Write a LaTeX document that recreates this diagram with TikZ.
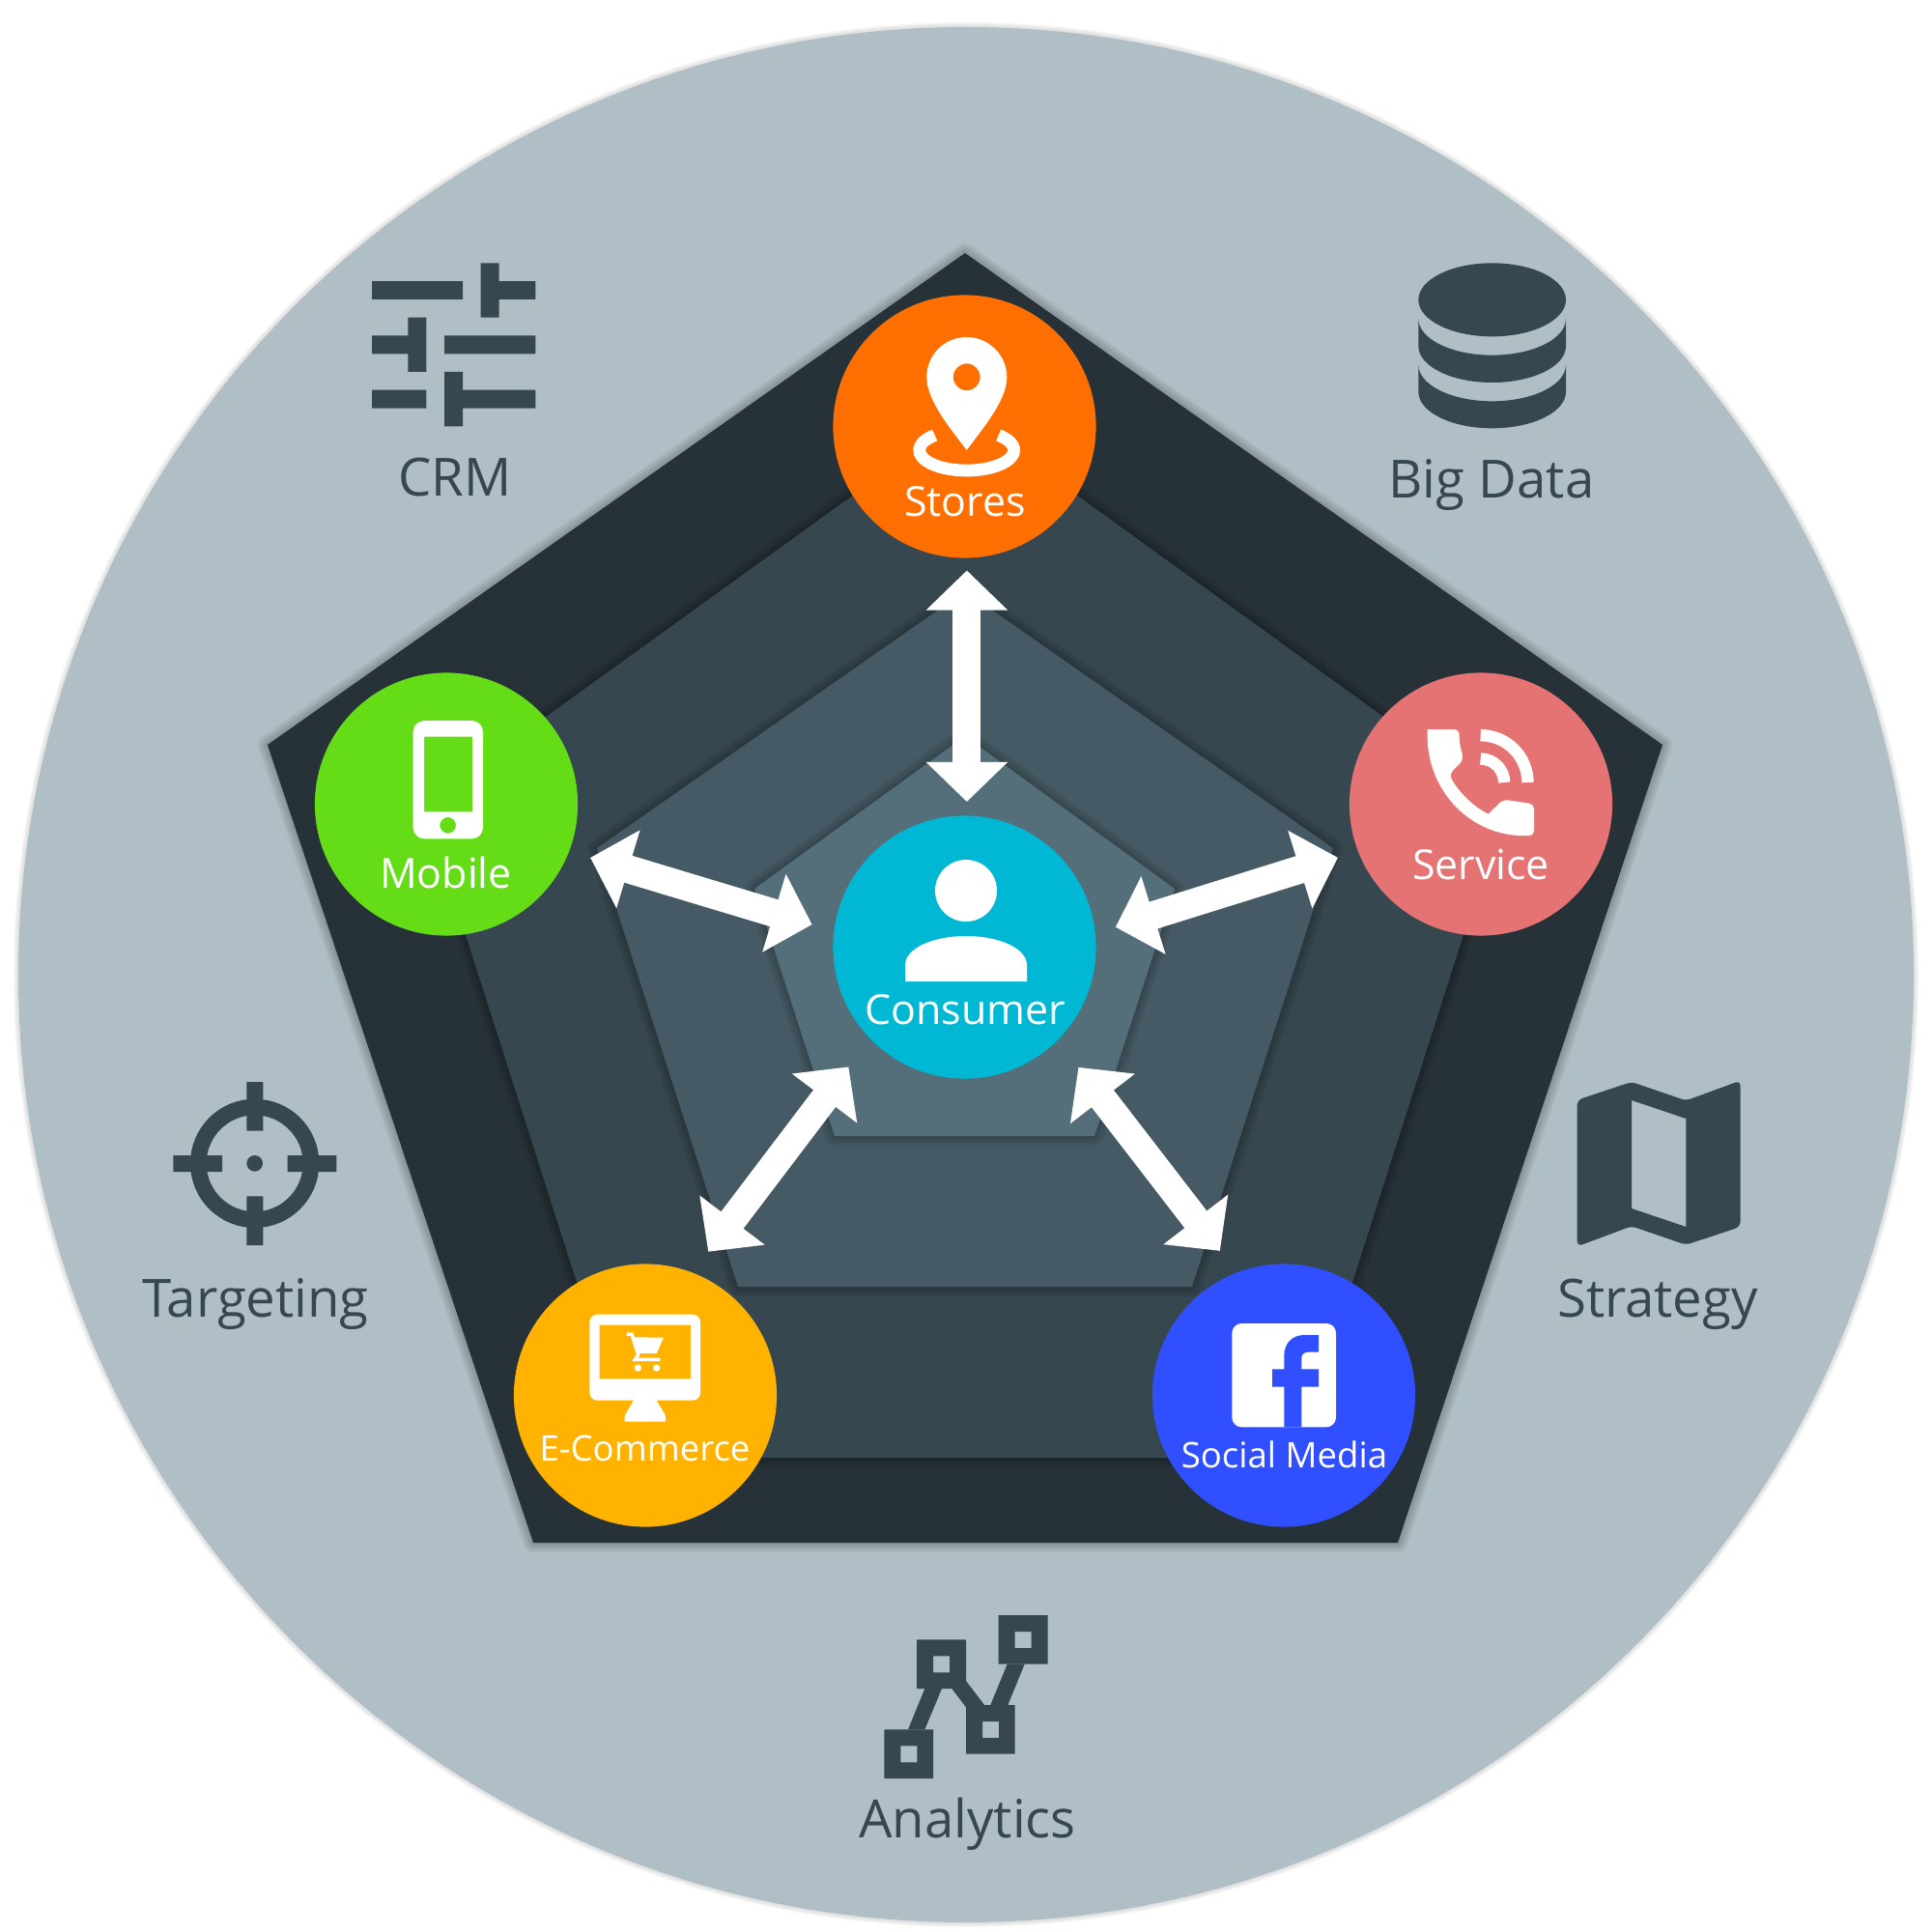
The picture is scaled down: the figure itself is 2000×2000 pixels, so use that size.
\documentclass[tikz,border=0pt]{standalone}
\usepackage{fontspec}
\setmainfont{Open Sans}
\usepackage{xcolor}
\usepackage{tikz}
\usetikzlibrary{arrows.meta, positioning, calc, shapes.geometric}
\definecolor{paneback}{RGB}{176,190,197}
\definecolor{slate1}{RGB}{38,50,56}
\definecolor{slate2}{RGB}{55,71,79}
\definecolor{slate3}{RGB}{69,90,100}
\definecolor{slate4}{RGB}{84,110,122}
\definecolor{storecol}{RGB}{255,111,0}
\definecolor{servicecol}{RGB}{229,115,115}
\definecolor{socialcol}{RGB}{48,79,254}
\definecolor{shopcol}{RGB}{255,179,0}
\definecolor{mobilecol}{RGB}{100,221,23}
\definecolor{consumercol}{RGB}{0,184,212}

\newcommand{\layerpoly}[2]{%
    \foreach \w in {.20,.16,.12,.08,.04}
        \draw[black, opacity=.045, line join=round, line width=\w cm] #2 -- cycle;
    \fill[#1] #2 -- cycle;
}

\begin{document}
\begin{tikzpicture}[
    x=0.01cm, y=-0.01cm,
    hub/.style={circle, minimum size=2.72cm, inner sep=0pt, outer sep=0pt},
    hublabel/.style={anchor=base, white, inner sep=0pt, font=\fontsize{#1}{#1}\selectfont},
    sidelabel/.style={anchor=base, slate2, inner sep=0pt, font=\fontsize{15.5}{16}\selectfont},
    link/.style={{Triangle[length=.41cm,width=.82cm]}-{Triangle[length=.41cm,width=.82cm]}, white, line width=.29cm},
    gray icon/.style={fill=slate2},
    white icon/.style={fill=white}
]
    \useasboundingbox (0,0) rectangle (2000,2000);

    % outer disc
    \foreach \w in {.10,.07,.04}
        \draw[black, opacity=.04, line width=\w cm] (1000,1009) circle[radius=981];
    \fill[paneback] (1000,1009) circle[radius=981];

    % nested pentagons
    \layerpoly{slate1}{(999,262) -- (1721,771) -- (1447,1597) -- (552,1597) -- (277,771)}
    \layerpoly{slate2}{(999,429) -- (1558,833) -- (1342,1509) -- (655,1509) -- (439,833)}
    \layerpoly{slate3}{(999,612) -- (1380,878) -- (1234,1332) -- (764,1332) -- (618,878)}
    \layerpoly{slate4}{(999,762) -- (1216,920) -- (1133,1176) -- (864,1176) -- (781,920)}

    % channels
    \node[hub, fill=storecol] (Stores) at (998.5,441.5) {};
    \node[hub, fill=servicecol] (Service) at (1533,832.5) {};
    \node[hub, fill=socialcol] (Social) at (1329,1444.5) {};
    \node[hub, fill=shopcol] (Shop) at (668,1444.5) {};
    \node[hub, fill=mobilecol] (Mobile) at (462,832.5) {};
    \node[hub, fill=consumercol] (Consumer) at (998.5,980.5) {};

    \node[hublabel=12.2] (StoresText) at (999,534) {Stores};
    \node[hublabel=12.2] (ServiceText) at (1533,910) {Service};
    \node[hublabel=10.4] (SocialText) at (1329.5,1519) {Social Media};
    \node[hublabel=10.4] (ShopText) at (667.5,1512) {E-Commerce};
    \node[hublabel=12.2] (MobileText) at (461.5,919) {Mobile};
    \node[hublabel=12.2] (ConsumerText) at (999,1060) {Consumer};

    % arrows to the consumer
    \draw[link, shorten <=.13cm, shorten >=.145cm] (Stores.-89.4) -- (Consumer.89);
    \draw[link, shorten <=.22cm, shorten >=.22cm] (Service.201.4) -- (Consumer.6.8);
    \draw[link, shorten <=.285cm, shorten >=.355cm] (Social.111.9) -- (Consumer.-45.1);
    \draw[link, shorten <=.272cm, shorten >=.368cm] (Shop.69) -- (Consumer.224.4);
    \draw[link, shorten <=.23cm, shorten >=.238cm] (Mobile.-21.5) -- (Consumer.173.8);

    % pin
    \fill[white icon, even odd rule] (1000.7,466) .. controls (985,445) and (959.3,415) .. (959.3,390.5)
        .. controls (959.3,367) and (978,349) .. (1000.7,349) .. controls (1023,349) and (1042.3,367) .. (1042.3,390.5)
        .. controls (1042.3,415) and (1016,445) .. cycle
        (1000.7,390.3) circle[radius=14];
    \draw[white, line width=.127cm] (967.7,450.5) arc[start angle=227.7, end angle=-47.7, x radius=49, y radius=21];

    % phone
    \begin{scope}[shift={(1380,680)}, scale=1/3]
        \fill[white icon, rounded corners=.05cm] (293,225) -- (392,225) -- (392,265) -- (405,320) -- (360,365)
            [sharp corners] .. controls (390,420) and (435,465) .. (482,488)
            [rounded corners=.05cm] -- (528,443) -- (624,457) -- (624,555) -- (605,555)
            [sharp corners] .. controls (430,555) and (293,420) .. (293,245) -- cycle;
        \draw[white, line width=.123cm] (458,243.5) arc[start angle=270, end angle=360, radius=146.5];
        \draw[white, line width=.123cm] (458,316.5) arc[start angle=270, end angle=360, radius=73.5];
    \end{scope}

    % facebook square
    \begin{scope}[shift={(1200,1340)}, scale=1/3]
        \fill[white icon, rounded corners=.1cm] (226,90) rectangle (549,412);
        \fill[socialcol] (388,412) -- (388,287) -- (351,287) -- (351,232) -- (388,232) -- (388,190)
            .. controls (388,150) and (415,126) .. (450,126) -- (495,126) -- (495,179) -- (462,179)
            .. controls (450,179) and (442,186) .. (442,198) -- (442,232) -- (495,232) -- (495,287) -- (442,287) -- (442,412) -- cycle;
    \end{scope}

    % monitor and cart
    \begin{scope}[shift={(530,1300)}, scale=1/3]
        \fill[white icon, even odd rule] [rounded corners=.08cm] (241,182) rectangle (585,449)
            [sharp corners] (272,215) rectangle (555,382);
        \fill[white icon] (380,445) -- (447,445) -- (477,497) -- (477,515) -- (350,515) -- (350,497) -- cycle;
        \fill[white icon] (375,253) -- (471,254) -- (449,303) -- (390,303) -- cycle;
        \draw[white, line width=.035cm] (356,243) -- (372,243) -- (392,307) -- (382,322) -- (460,322);
        \fill[white icon] (391,348) circle[radius=11] (449,348) circle[radius=11];
    \end{scope}

    % handset
    \begin{scope}[shift={(400,730)}, scale=1/3]
        \fill[white icon, even odd rule] [rounded corners=.117cm] (83,48) rectangle (300,415)
            [sharp corners] (117,98) rectangle (267,331) (191,373) circle[radius=25];
    \end{scope}

    % person
    \fill[white icon] (1000,922) circle[radius=32];
    \fill[white icon] (937,1016) -- (937,999) .. controls (937,982) and (965,969) .. (1000,969)
        .. controls (1035,969) and (1063,982) .. (1063,999) -- (1063,1016) -- cycle;

    % sliders
    \begin{scope}[shift={(360,250)}, scale=1/3]
        \fill[gray icon] (75,123) rectangle (357,180) (413,67) rectangle (470,236) (470,123) rectangle (583,180);
        \fill[gray icon] (75,292) rectangle (187,349) (187,236) rectangle (244,405) (300,292) rectangle (583,349);
        \fill[gray icon] (75,461) rectangle (244,518) (300,405) rectangle (357,574) (357,461) rectangle (583,518);
    \end{scope}

    % database
    \begin{scope}[shift={(1450,260)}, scale=1/3]
        \fill[gray icon] (284,151) ellipse[x radius=229, y radius=114];
        \fill[gray icon] (55,210) arc[start angle=180, end angle=0, x radius=229, y radius=113] -- (513,295)
            arc[start angle=0, end angle=180, x radius=229, y radius=113] -- cycle;
        \fill[gray icon] (55,353) arc[start angle=180, end angle=0, x radius=229, y radius=113] -- (513,437)
            arc[start angle=0, end angle=180, x radius=229, y radius=113] -- cycle;
    \end{scope}

    % crosshair
    \begin{scope}[shift={(160,1100)}, scale=1/3]
        \draw[slate2, line width=.167cm] (311,313) circle[radius=175];
        \fill[gray icon] (286,60) rectangle (337,212) (286,415) rectangle (337,567);
        \fill[gray icon] (58,288) rectangle (210,339) (413,288) rectangle (565,339);
        \fill[gray icon] (311,313) circle[radius=25];
    \end{scope}

    % folded map
    \begin{scope}[shift={(1610,1100)}, scale=1/3]
        \fill[gray icon, even odd rule] [rounded corners=.05cm] (68,116) -- (237,60) -- (406,118) -- (575,56)
            -- (575,510) -- (406,566) -- (237,508) -- (68,571) -- cycle
            [sharp corners] (237,117) -- (406,174) -- (406,510) -- (237,453) -- cycle;
    \end{scope}

    % network chart
    \begin{scope}[shift={(880,1640)}, scale=1/3]
        \fill[gray icon, even odd rule] (106,451) rectangle (258,603) (157,502) rectangle (208,553);
        \fill[gray icon, even odd rule] (207,172) rectangle (360,324) (258,223) rectangle (309,274);
        \fill[gray icon, even odd rule] (360,375) rectangle (512,527) (411,426) rectangle (462,477);
        \fill[gray icon, even odd rule] (461,96) rectangle (614,248) (512,147) rectangle (563,198);
        \fill[gray icon] (180,451) -- (232,324) -- (285,324) -- (232,451) -- cycle;
        \fill[gray icon] (316,324) -- (360,300) -- (417,375) -- (360,382) -- cycle;
        \fill[gray icon] (488,248) -- (436,375) -- (490,375) -- (542,248) -- cycle;
    \end{scope}

    \node[sidelabel] (CrmText) at (471,513) {CRM};
    \node[sidelabel] (BigDataText) at (1544,515) {Big Data};
    \node[sidelabel] (TargetingText) at (264.5,1363) {Targeting};
    \node[sidelabel] (StrategyText) at (1716,1363) {Strategy};
    \node[sidelabel] (AnalyticsText) at (1001.5,1902) {Analytics};
\end{tikzpicture}
\end{document}
